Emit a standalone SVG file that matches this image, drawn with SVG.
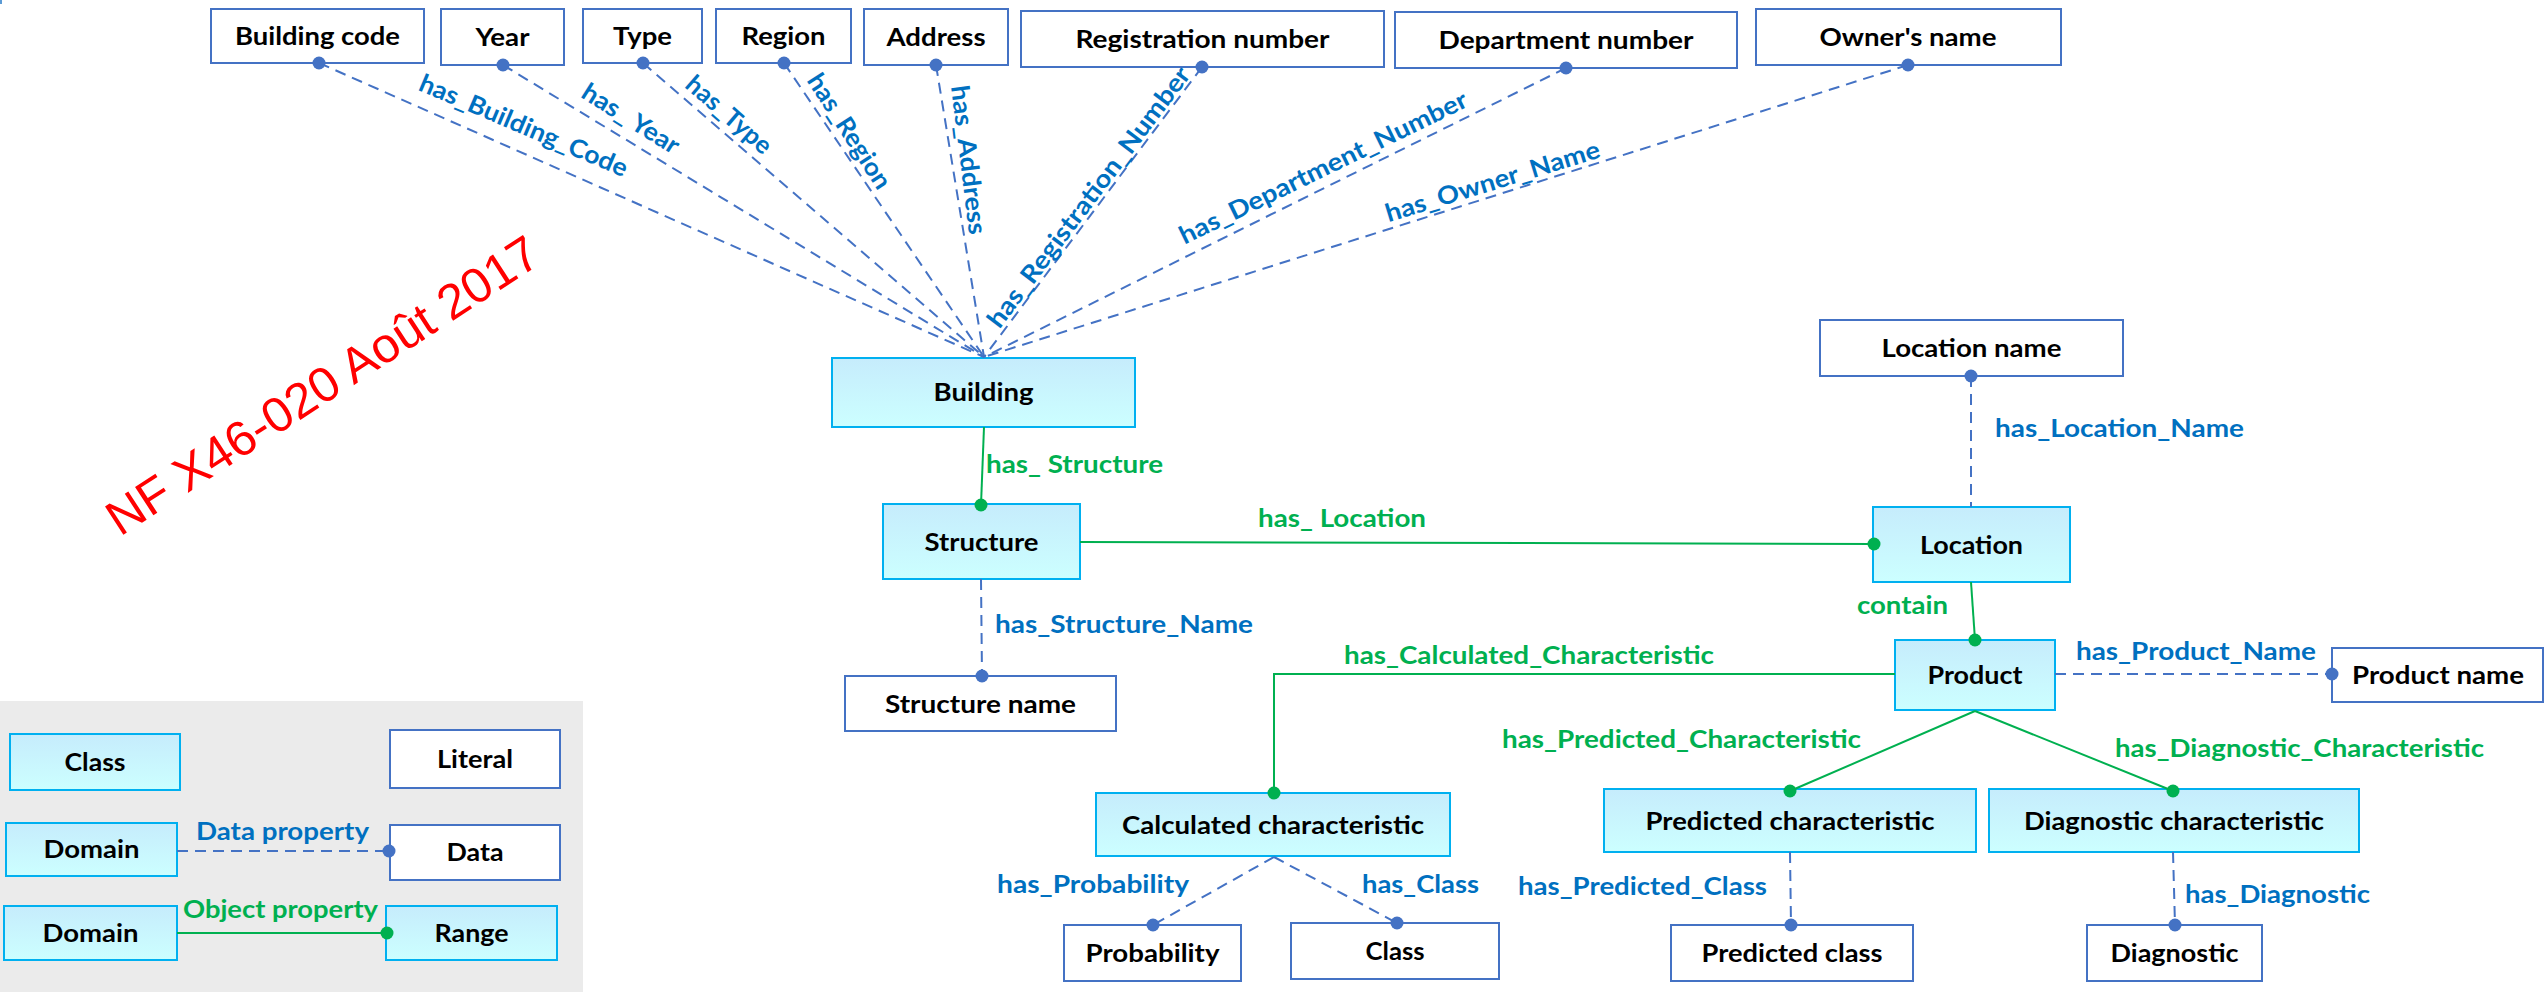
<svg xmlns="http://www.w3.org/2000/svg" width="2544" height="992" viewBox="0 0 2544 992">
<defs>
<linearGradient id="cg" x1="0" y1="0" x2="0" y2="1">
<stop offset="0" stop-color="#C6ECFC"/>
<stop offset="1" stop-color="#CCFFFF"/>
</linearGradient>
</defs>
<style>
.cls rect{fill:url(#cg);stroke:#00B0F0;stroke-width:2}
.lit rect{fill:#fff;stroke:#4472C4;stroke-width:2}
text{font-family:Lato,"Liberation Sans",sans-serif;font-weight:bold;font-size:25px}
.nt{fill:#000;text-anchor:middle}
.bl{fill:#0070C0}
.gl{fill:#00B050}
.mid{text-anchor:middle}
.dl{stroke:#4472C4;stroke-width:2;stroke-dasharray:11 7;fill:none}
.ol{stroke:#00B050;stroke-width:2;fill:none}
.bd{fill:#4472C4}
.gd{fill:#00B050}
.red{font-family:"Liberation Sans",Arial,sans-serif;font-weight:normal;font-size:49px;fill:#FF0000}
</style>
<rect width="2544" height="992" fill="#fff"/>
<line x1="1" y1="0" x2="1" y2="4" stroke="#5B9BD5" stroke-width="2"/>

<!-- legend background -->
<rect id="legend-bg" x="0" y="701" width="583" height="291" fill="#EBEBEB"/>

<!-- red note -->
<text class="red" transform="translate(120,537) rotate(-33)" textLength="505" lengthAdjust="spacingAndGlyphs">NF X46-020 Août 2017</text>

<!-- literal nodes (top row) -->
<g id="n-building-code" class="lit"><rect x="211" y="9" width="213" height="54"/><text class="nt" x="317.5" y="45" textLength="165" lengthAdjust="spacingAndGlyphs">Building code</text></g>
<g id="n-year" class="lit"><rect x="441" y="9" width="123" height="56"/><text class="nt" x="502.5" y="46" textLength="54" lengthAdjust="spacingAndGlyphs">Year</text></g>
<g id="n-type" class="lit"><rect x="583" y="9" width="119" height="54"/><text class="nt" x="642.5" y="45" textLength="59" lengthAdjust="spacingAndGlyphs">Type</text></g>
<g id="n-region" class="lit"><rect x="716" y="9" width="135" height="54"/><text class="nt" x="783.5" y="45" textLength="84" lengthAdjust="spacingAndGlyphs">Region</text></g>
<g id="n-address" class="lit"><rect x="864" y="9" width="144" height="56"/><text class="nt" x="936" y="46" textLength="99" lengthAdjust="spacingAndGlyphs">Address</text></g>
<g id="n-registration" class="lit"><rect x="1021" y="11" width="363" height="56"/><text class="nt" x="1202.5" y="48" textLength="254" lengthAdjust="spacingAndGlyphs">Registration number</text></g>
<g id="n-department" class="lit"><rect x="1395" y="12" width="342" height="56"/><text class="nt" x="1566" y="49" textLength="255" lengthAdjust="spacingAndGlyphs">Department number</text></g>
<g id="n-owner" class="lit"><rect x="1756" y="9" width="305" height="56"/><text class="nt" x="1908" y="46" textLength="177" lengthAdjust="spacingAndGlyphs">Owner's name</text></g>

<!-- class nodes -->
<g id="n-building" class="cls"><rect x="832" y="358" width="303" height="69"/><text class="nt" x="983.5" y="401" textLength="100" lengthAdjust="spacingAndGlyphs">Building</text></g>
<g id="n-structure" class="cls"><rect x="883" y="504" width="197" height="75"/><text class="nt" x="981.5" y="551" textLength="114" lengthAdjust="spacingAndGlyphs">Structure</text></g>
<g id="n-location" class="cls"><rect x="1873" y="507" width="197" height="75"/><text class="nt" x="1971.5" y="554" textLength="103" lengthAdjust="spacingAndGlyphs">Location</text></g>
<g id="n-product" class="cls"><rect x="1895" y="640" width="160" height="70"/><text class="nt" x="1975" y="684" textLength="95" lengthAdjust="spacingAndGlyphs">Product</text></g>
<g id="n-calculated" class="cls"><rect x="1096" y="793" width="354" height="63"/><text class="nt" x="1273" y="834" textLength="302" lengthAdjust="spacingAndGlyphs">Calculated characteristic</text></g>
<g id="n-predicted" class="cls"><rect x="1604" y="789" width="372" height="63"/><text class="nt" x="1790" y="830" textLength="289" lengthAdjust="spacingAndGlyphs">Predicted characteristic</text></g>
<g id="n-diagnostic-char" class="cls"><rect x="1989" y="789" width="370" height="63"/><text class="nt" x="2174" y="830" textLength="300" lengthAdjust="spacingAndGlyphs">Diagnostic characteristic</text></g>

<!-- literal nodes (middle/bottom) -->
<g id="n-location-name" class="lit"><rect x="1820" y="320" width="303" height="56"/><text class="nt" x="1971.5" y="357" textLength="180" lengthAdjust="spacingAndGlyphs">Location name</text></g>
<g id="n-structure-name" class="lit"><rect x="845" y="676" width="271" height="55"/><text class="nt" x="980.5" y="713" textLength="191" lengthAdjust="spacingAndGlyphs">Structure name</text></g>
<g id="n-product-name" class="lit"><rect x="2332" y="648" width="211" height="54"/><text class="nt" x="2438" y="684" textLength="172" lengthAdjust="spacingAndGlyphs">Product name</text></g>
<g id="n-probability" class="lit"><rect x="1064" y="925" width="177" height="56"/><text class="nt" x="1152.5" y="962" textLength="134" lengthAdjust="spacingAndGlyphs">Probability</text></g>
<g id="n-class" class="lit"><rect x="1291" y="923" width="208" height="56"/><text class="nt" x="1395" y="960" textLength="59" lengthAdjust="spacingAndGlyphs">Class</text></g>
<g id="n-predicted-class" class="lit"><rect x="1671" y="925" width="242" height="56"/><text class="nt" x="1792" y="962" textLength="181" lengthAdjust="spacingAndGlyphs">Predicted class</text></g>
<g id="n-diagnostic" class="lit"><rect x="2087" y="925" width="175" height="56"/><text class="nt" x="2174.5" y="962" textLength="128" lengthAdjust="spacingAndGlyphs">Diagnostic</text></g>

<!-- legend nodes -->
<g id="lg-class" class="cls"><rect x="10" y="734" width="170" height="56"/><text class="nt" x="95" y="771" textLength="61" lengthAdjust="spacingAndGlyphs">Class</text></g>
<g id="lg-literal" class="lit"><rect x="390" y="730" width="170" height="58"/><text class="nt" x="475" y="768" textLength="76" lengthAdjust="spacingAndGlyphs">Literal</text></g>
<g id="lg-domain1" class="cls"><rect x="6" y="823" width="171" height="53"/><text class="nt" x="91.5" y="858" textLength="96" lengthAdjust="spacingAndGlyphs">Domain</text></g>
<g id="lg-data" class="lit"><rect x="390" y="825" width="170" height="55"/><text class="nt" x="475" y="861" textLength="57" lengthAdjust="spacingAndGlyphs">Data</text></g>
<g id="lg-domain2" class="cls"><rect x="4" y="906" width="173" height="54"/><text class="nt" x="90.5" y="942" textLength="96" lengthAdjust="spacingAndGlyphs">Domain</text></g>
<g id="lg-range" class="cls"><rect x="386" y="906" width="171" height="54"/><text class="nt" x="471.5" y="942" textLength="74" lengthAdjust="spacingAndGlyphs">Range</text></g>

<g id="connectors">
<!-- fan-in data properties to Building -->
<line class="dl" x1="319" y1="63" x2="984" y2="357"/>
<line class="dl" x1="503" y1="65" x2="984" y2="357"/>
<line class="dl" x1="643" y1="63" x2="984" y2="357"/>
<line class="dl" x1="784" y1="63" x2="984" y2="357"/>
<line class="dl" x1="936" y1="65" x2="984" y2="357"/>
<line class="dl" x1="1202" y1="67" x2="984" y2="357"/>
<line class="dl" x1="1566" y1="68" x2="984" y2="357"/>
<line class="dl" x1="1908" y1="65" x2="984" y2="357"/>
<circle class="bd" cx="319" cy="63" r="6.5"/>
<circle class="bd" cx="503" cy="65" r="6.5"/>
<circle class="bd" cx="643" cy="63" r="6.5"/>
<circle class="bd" cx="784" cy="63" r="6.5"/>
<circle class="bd" cx="936" cy="65" r="6.5"/>
<circle class="bd" cx="1202" cy="67" r="6.5"/>
<circle class="bd" cx="1566" cy="68" r="6.5"/>
<circle class="bd" cx="1908" cy="65" r="6.5"/>
<text class="bl mid" transform="translate(523,127) rotate(23)" y="7" textLength="224" lengthAdjust="spacingAndGlyphs">has_Building_Code</text>
<text class="bl mid" transform="translate(630,120) rotate(32)" y="7" textLength="110" lengthAdjust="spacingAndGlyphs">has_ Year</text>
<text class="bl mid" transform="translate(728,116) rotate(41)" y="7" textLength="105" lengthAdjust="spacingAndGlyphs">has_Type</text>
<text class="bl mid" transform="translate(848,132) rotate(57)" y="7" textLength="132" lengthAdjust="spacingAndGlyphs">has_Region</text>
<text class="bl mid" transform="translate(967,160) rotate(83)" y="7" textLength="150" lengthAdjust="spacingAndGlyphs">has_Address</text>
<text class="bl mid" transform="translate(1090,198) rotate(-53)" y="7" textLength="319" lengthAdjust="spacingAndGlyphs">has_Registration_Number</text>
<text class="bl mid" transform="translate(1324,169) rotate(-26)" y="7" textLength="317" lengthAdjust="spacingAndGlyphs">has_Department_Number</text>
<text class="bl mid" transform="translate(1493,183) rotate(-17)" y="7" textLength="223" lengthAdjust="spacingAndGlyphs">has_Owner_Name</text>

<!-- Building - Structure -->
<line class="ol" x1="984" y1="427" x2="981" y2="505"/>
<circle class="gd" cx="981" cy="505" r="6.5"/>
<text class="gl" x="986" y="473" textLength="177" lengthAdjust="spacingAndGlyphs">has_ Structure</text>

<!-- Structure - Location -->
<line class="ol" x1="1080" y1="542" x2="1874" y2="544"/>
<circle class="gd" cx="1874" cy="544" r="6.5"/>
<text class="gl" x="1258" y="527" textLength="168" lengthAdjust="spacingAndGlyphs">has_ Location</text>

<!-- Structure - Structure name -->
<line class="dl" x1="981" y1="579" x2="982" y2="676"/>
<circle class="bd" cx="982" cy="676" r="6.5"/>
<text class="bl" x="995" y="633" textLength="258" lengthAdjust="spacingAndGlyphs">has_Structure_Name</text>

<!-- Location - Location name -->
<line class="dl" x1="1971" y1="376" x2="1971" y2="507"/>
<circle class="bd" cx="1971" cy="376" r="6.5"/>
<text class="bl" x="1995" y="437" textLength="249" lengthAdjust="spacingAndGlyphs">has_Location_Name</text>

<!-- Location - Product -->
<line class="ol" x1="1971" y1="582" x2="1975" y2="640"/>
<circle class="gd" cx="1975" cy="640" r="6.5"/>
<text class="gl" x="1857" y="614" textLength="91" lengthAdjust="spacingAndGlyphs">contain</text>

<!-- Product - Product name -->
<line class="dl" x1="2055" y1="674" x2="2332" y2="674"/>
<circle class="bd" cx="2332" cy="674" r="6.5"/>
<text class="bl" x="2076" y="660" textLength="240" lengthAdjust="spacingAndGlyphs">has_Product_Name</text>

<!-- Product - Calculated characteristic -->
<polyline class="ol" points="1895,674 1274,674 1274,793"/>
<circle class="gd" cx="1274" cy="793" r="6.5"/>
<text class="gl" x="1344" y="664" textLength="370" lengthAdjust="spacingAndGlyphs">has_Calculated_Characteristic</text>

<!-- Product - Predicted / Diagnostic -->
<line class="ol" x1="1975" y1="711" x2="1790" y2="791"/>
<line class="ol" x1="1975" y1="711" x2="2173" y2="791"/>
<circle class="gd" cx="1790" cy="791" r="6.5"/>
<circle class="gd" cx="2173" cy="791" r="6.5"/>
<text class="gl" x="1502" y="748" textLength="359" lengthAdjust="spacingAndGlyphs">has_Predicted_Characteristic</text>
<text class="gl" x="2115" y="757" textLength="369" lengthAdjust="spacingAndGlyphs">has_Diagnostic_Characteristic</text>

<!-- Calculated - Probability / Class -->
<line class="dl" x1="1274" y1="857" x2="1153" y2="925"/>
<line class="dl" x1="1274" y1="857" x2="1397" y2="923"/>
<circle class="bd" cx="1153" cy="925" r="6.5"/>
<circle class="bd" cx="1397" cy="923" r="6.5"/>
<text class="bl" x="997" y="893" textLength="192" lengthAdjust="spacingAndGlyphs">has_Probability</text>
<text class="bl" x="1362" y="893" textLength="117" lengthAdjust="spacingAndGlyphs">has_Class</text>

<!-- Predicted - Predicted class -->
<line class="dl" x1="1790" y1="852" x2="1791" y2="925"/>
<circle class="bd" cx="1791" cy="925" r="6.5"/>
<text class="bl" x="1518" y="895" textLength="249" lengthAdjust="spacingAndGlyphs">has_Predicted_Class</text>

<!-- Diagnostic characteristic - Diagnostic -->
<line class="dl" x1="2173" y1="852" x2="2175" y2="925"/>
<circle class="bd" cx="2175" cy="925" r="6.5"/>
<text class="bl" x="2185" y="903" textLength="185" lengthAdjust="spacingAndGlyphs">has_Diagnostic</text>

<!-- legend connectors -->
<line class="dl" x1="177" y1="851" x2="389" y2="851"/>
<circle class="bd" cx="389" cy="851" r="6.5"/>
<text class="bl" x="196" y="840" textLength="173" lengthAdjust="spacingAndGlyphs">Data property</text>
<line class="ol" x1="177" y1="933" x2="387" y2="933"/>
<circle class="gd" cx="387" cy="933" r="6.5"/>
<text class="gl" x="183" y="918" textLength="195" lengthAdjust="spacingAndGlyphs">Object property</text>
</g>
</svg>
